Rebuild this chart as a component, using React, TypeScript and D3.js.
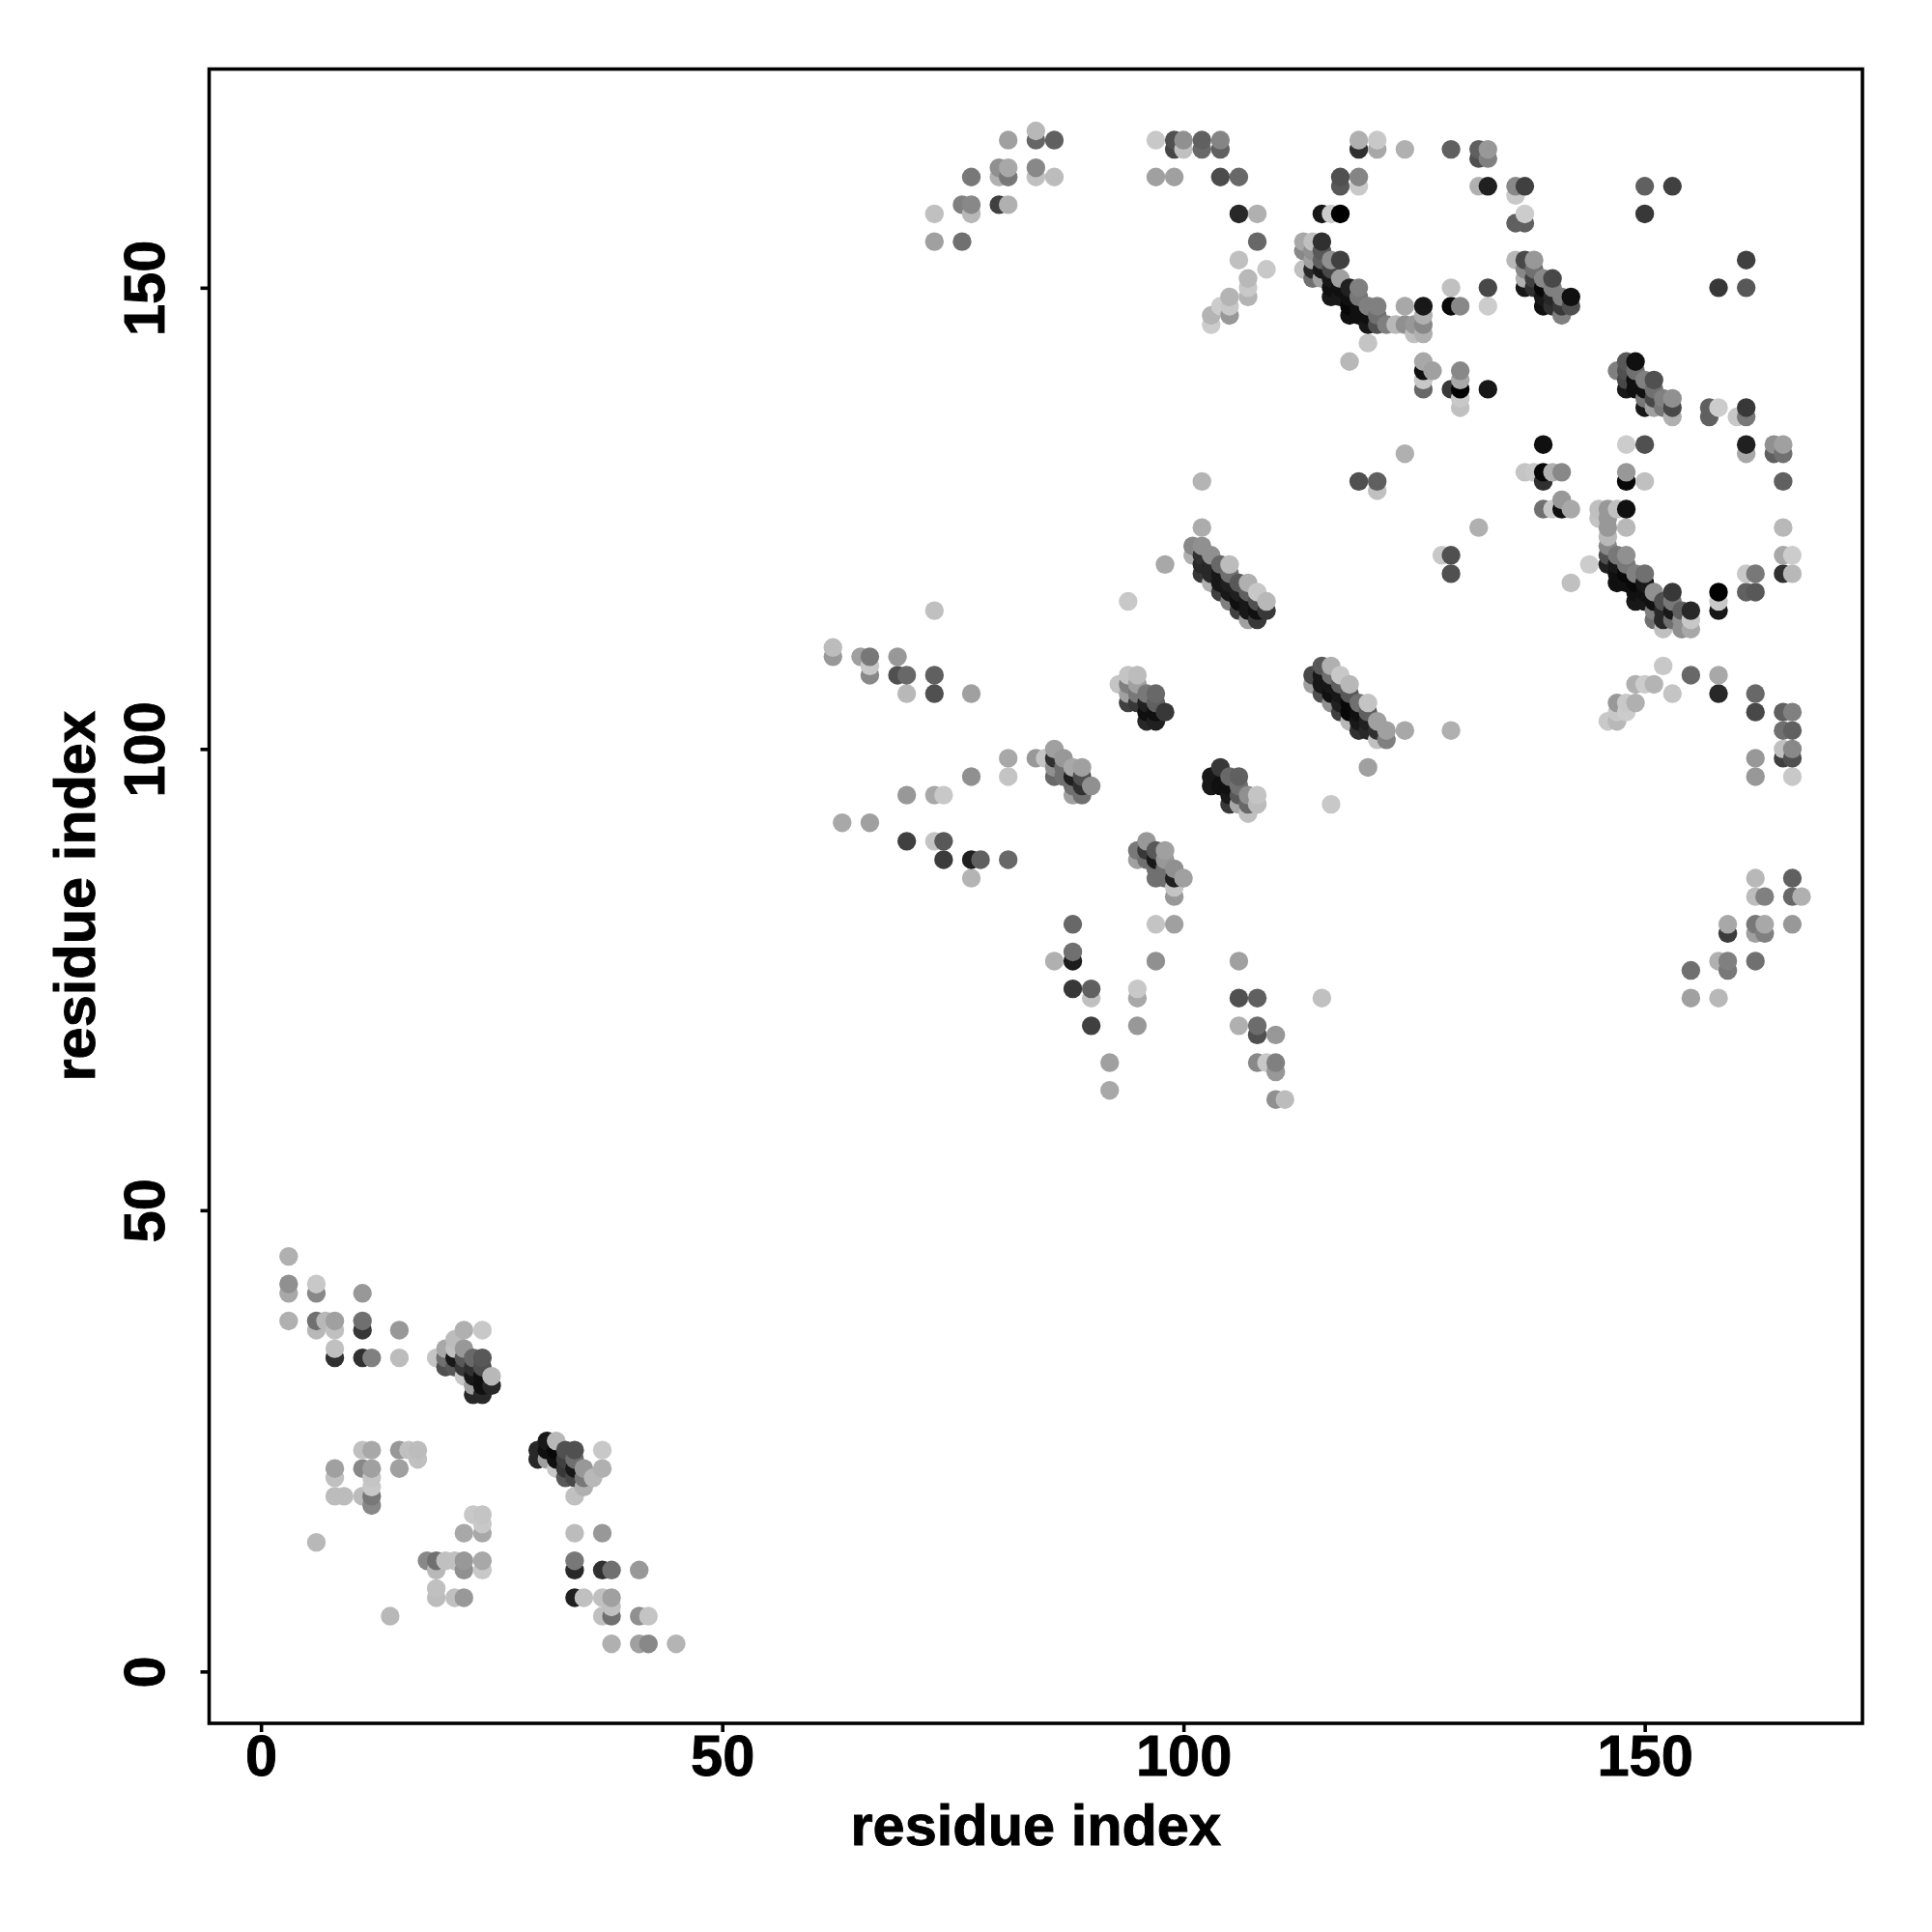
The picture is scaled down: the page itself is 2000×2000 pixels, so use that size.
import React, { useEffect, useRef } from 'react';
import * as d3 from 'd3';

// each contact: [residue i, residue j, grey level]
type Contact = [number, number, number];

const xTicks = [0, 50, 100, 150];
const yTicks = [0, 50, 100, 150];
const xLabel = 'residue index';
const yLabel = 'residue index';

const lowerLeftSparse: Contact[] = [
  [3,45,0xb0],[3,42,0x90],[3,41,0xa8],[6,42,0xc8],[6,41,0x88],[11,41,0x98],[3,38,0xb0],[6,38,0x70],[7,38,0xb8],[8,38,0xa0],
  [6,37,0xb8],[8,37,0xc0],[11,38,0x70],[11,37,0x38],[15,37,0x98],[8,35,0xc0],[8,34,0x30],[11,34,0x30],[12,34,0x80],[15,34,0xbc],
  [11,24,0xc0],[12,24,0xa8],[15,24,0x98],[16,24,0xc0],[17,24,0xbc],[15,22,0xa0],[17,23,0xc0],[8,22,0xa0],[8,21,0xc0],[8,19,0xbc],
  [9,19,0xbc],[11,22,0x88],[12,22,0xa0],[12,21,0xc4],[12,20,0xc8],[11,19,0xbc],[12,19,0x78],[12,18,0x88],[6,14,0xb8],[23,17,0xc8],
  [24,17,0xc4],[24,16,0xc8],[24,15,0xa8],[22,15,0xa8],[18,12,0x88],[19,12,0x70],[19,11,0xb8],[20,12,0xc0],[21,12,0xc0],[22,12,0x98],
  [22,11,0x90],[24,12,0xa8],[24,11,0xc8],[19,9,0xc0],[19,8,0xbc],[21,8,0xc0],[22,8,0x98],[14,6,0xb8],
  [34,15,0xbc],[37,15,0x98],[34,12,0x78],[34,11,0x28],[37,11,0x30],[38,11,0x70],[41,11,0x98],[34,8,0x20],[35,8,0xc0],[37,8,0xc0],
  [38,8,0xa0],[38,7,0xc0],[37,6,0xc0],[38,6,0x70],[41,6,0x90],[42,6,0xc4],[38,3,0xb0],[41,3,0xa0],[42,3,0x88],[45,3,0xb4],
];

const helixA: Contact[] = [
  [19,34,0xc4],[20,35,0xa8],[21,36,0xbc],[22,37,0xb0],[24,37,0xc8],[20,34,0x70],[20,33,0x50],[21,35,0xc0],[22,35,0x98],[21,34,0x18],
  [21,33,0x58],[23,34,0x68],[24,34,0x58],[22,34,0x58],[22,33,0x38],[23,33,0x30],[24,33,0x50],[25,32,0xb8],[22,32,0xc8],[23,32,0x18],
  [24,32,0x10],[23,31,0xa0],[24,31,0x10],[25,31,0x28],[23,30,0x28],[24,30,0x28],
];

const helixB: Contact[] = [
  [30,24,0x28],[30,23,0x28],[31,25,0x18],[32,25,0xb8],[31,24,0x10],[31,23,0xa0],[32,24,0x08],[32,23,0x10],[33,24,0x50],[34,24,0x50],
  [33,23,0x40],[34,23,0x70],[32,22,0xc8],[33,22,0x38],[34,22,0x18],[33,21,0x58],[34,21,0x48],[35,22,0x98],[35,20,0xb0],[34,19,0xc0],
  [35,21,0x78],[36,21,0xb8],[37,24,0xc8],[37,22,0xb0],
];

const topSparse: Contact[] = [
  [81,166,0xa0],[84,167,0xb8],[84,166,0x66],[86,166,0x60],[97,166,0xc8],[99,166,0x50],[99,165,0x45],[100,166,0x90],[100,165,0xc0],
  [102,166,0x60],[102,165,0x68],[104,166,0x85],[104,165,0x60],[80,163,0x90],[81,163,0xa8],[84,163,0x88],[77,162,0x78],[80,162,0xb0],
  [81,162,0x78],[84,162,0xc0],[86,162,0xbc],[97,162,0xa0],[99,162,0xa0],[104,162,0x4c],[106,162,0x68],[76,159,0x80],[77,159,0x88],
  [80,159,0x40],[81,159,0xb0],[73,158,0xc0],[77,158,0xb8],[106,158,0x28],[108,158,0xb0],[73,155,0xa0],[76,155,0x70],[108,155,0x68],
  [106,153,0xc0],[109,152,0xc8],[107,151,0xb8],[107,150,0xc8],[107,149,0xb4],[105,149,0xb4],[105,148,0xc8],[105,147,0x98],[104,148,0xcc],
  [103,147,0xb4],[103,146,0xcc],[102,129,0xb4],[102,124,0xac],[98,120,0xa8],[94,116,0xc8],[73,115,0xc0],
  [119,166,0xb0],[119,165,0x30],[121,166,0xc8],[121,165,0xa8],[124,165,0xb0],[129,165,0x60],[132,165,0x60],[132,164,0x50],[133,165,0x98],
  [133,164,0x80],[117,162,0x50],[117,161,0x58],[119,162,0x85],[119,161,0xc8],[132,161,0xb0],[133,161,0x20],[136,161,0x88],[136,160,0xc8],
  [137,161,0x40],[150,161,0x60],[153,161,0x40],[150,158,0x38],[115,158,0x18],[116,158,0xcc],[117,158,0x00],[137,158,0xcc],[136,157,0x60],
  [137,157,0x60],[161,153,0x40],[158,150,0x38],[161,150,0x58],[129,150,0xc0],[133,150,0x48],[133,148,0xcc],[129,148,0x08],[130,148,0x88],
  [120,144,0xc4],[118,142,0xb8],[126,142,0xa8],[127,141,0xa0],[126,141,0x10],[126,140,0xc8],[126,139,0x68],[130,141,0x88],[130,140,0xa8],
  [130,139,0x00],[129,139,0x38],[130,138,0xc8],[130,137,0xc0],[133,139,0x18],
];

const rightSparse: Contact[] = [
  [157,137,0x60],[157,136,0x60],[158,137,0xcc],[160,136,0xc8],[161,137,0x38],[161,136,0x78],[139,133,0x10],[148,133,0xcc],[150,133,0x50],
  [161,133,0x20],[161,132,0xa8],[164,133,0x90],[164,132,0x60],[165,133,0xa0],[165,132,0x70],[124,132,0xb0],[137,130,0xc4],[138,130,0xc8],
  [139,130,0x08],[139,129,0x30],[140,130,0xb0],[141,130,0x88],[148,130,0x98],[148,129,0x08],[150,129,0xc0],[165,129,0x60],[119,129,0x50],
  [121,129,0x60],[121,128,0xc0],[141,127,0x98],[139,126,0x70],[140,126,0xc8],[141,126,0x10],[142,126,0xa8],[132,124,0xb0],[165,124,0xb8],
  [128,121,0xc8],[129,121,0x50],[129,119,0x50],[165,121,0xa8],[166,121,0xcc],[165,119,0x30],[166,119,0xb8],[144,120,0xcc],[142,118,0xc0],
  [161,119,0xc8],[162,119,0x78],[161,117,0x60],[162,117,0x58],[158,117,0x00],[158,116,0xc8],[158,115,0x18],
  [152,109,0xc8],[155,108,0x68],[158,108,0xa8],[158,106,0x28],[153,106,0xc4],[162,106,0x68],[162,104,0x48],[165,104,0x60],[166,104,0x80],
  [165,102,0x70],[166,102,0x60],[165,100,0xc0],[166,100,0x88],[162,99,0x98],[165,99,0x40],[166,99,0x50],[162,97,0x98],[166,97,0xc8],
  [149,107,0xb0],[150,107,0xcc],[151,107,0xb4],[147,105,0x98],[148,105,0xc8],[149,105,0xb0],[147,104,0xc8],[148,104,0xcc],[146,103,0xc8],
  [147,103,0xb8],[124,102,0xa8],[129,102,0xb0],[120,98,0xa0],[116,94,0xc8],
  [162,86,0xb8],[166,86,0x60],[162,84,0xbc],[163,84,0x80],[166,84,0x68],[167,84,0xb0],[159,81,0xa8],[159,80,0x3c],[162,81,0x78],[163,81,0xa8],
  [162,80,0xa0],[163,80,0x80],[166,81,0x98],[158,77,0xb0],[159,77,0x80],[159,76,0x78],[162,77,0x70],[155,76,0x70],[155,73,0xa0],[158,73,0xb8],
];

const middleSparse: Contact[] = [
  [62,111,0xbc],[62,110,0x98],[65,110,0xa0],[66,110,0x78],[66,109,0xc8],[66,108,0x88],[69,110,0x98],[69,108,0x50],[70,108,0x68],[73,108,0x60],
  [70,106,0xb8],[73,106,0x50],[77,106,0xa0],[81,99,0xa8],[81,97,0xc4],[77,97,0x90],[70,95,0x98],[73,95,0xa8],[74,95,0xc8],[63,92,0xa8],
  [66,92,0xa0],[70,90,0x40],[73,90,0xc4],[74,90,0x58],[74,88,0x3c],[77,88,0x20],[78,88,0x60],[81,88,0x68],[77,86,0xb4],
  [88,81,0x68],[97,81,0xc4],[99,81,0xa0],[88,78,0x70],[88,77,0x1c],[86,77,0xb0],[97,77,0x90],[106,77,0xa0],[88,74,0x38],[90,74,0x60],
  [90,73,0xc0],[95,74,0xc8],[95,73,0xa8],[106,73,0x50],[108,73,0x60],[115,73,0xc0],[90,70,0x40],[95,70,0x98],[106,70,0xb0],[108,70,0x6c],
  [108,69,0x50],[110,69,0x98],[92,66,0xa0],[92,63,0xa8],[108,66,0x88],[109,66,0xc8],[110,66,0x80],[110,65,0x98],[110,62,0x90],[111,62,0xbc],
];

const helixC: Contact[] = [
  [93,107,0xc4],[94,108,0xc4],[95,108,0xbc],[94,107,0x80],[95,107,0xa0],[94,106,0xa0],[94,105,0x40],[96,106,0x78],[97,106,0x68],[95,106,0x78],
  [95,105,0x38],[96,105,0x20],[97,105,0x60],[96,104,0x10],[97,104,0x10],[98,104,0x38],[96,103,0x28],[97,103,0x20],
];

const helixD: Contact[] = [
  [84,99,0x98],[85,99,0xc4],[86,100,0xa0],[86,99,0x30],[87,99,0x98],[86,98,0x90],[86,97,0x68],[87,98,0x70],[87,97,0x70],[88,98,0xa8],
  [89,98,0xa0],[88,97,0x20],[89,97,0x50],[88,96,0x70],[89,96,0x30],[90,96,0x90],[88,95,0xa0],[89,95,0x70],
];

const helixE: Contact[] = [
  [95,89,0x78],[96,90,0x98],[96,89,0x38],[97,89,0x58],[98,89,0xa0],[95,88,0xa0],[96,88,0x70],[97,88,0x18],[98,88,0x98],[97,87,0x70],
  [98,87,0x70],[97,86,0x70],[98,86,0x70],[99,87,0x90],[99,86,0x20],[100,86,0xa0],[99,85,0xc4],[99,84,0x98],
];

const helixF: Contact[] = [
  [103,97,0x18],[104,98,0x38],[105,97,0x68],[106,97,0x60],[103,96,0x18],[104,96,0x10],[105,96,0x10],[106,96,0x70],[105,95,0x18],[106,95,0x58],
  [107,95,0x90],[108,95,0xc4],[105,94,0x38],[106,94,0xa8],[107,94,0x68],[108,94,0xbc],[107,93,0xc0],
];

const helixG: Contact[] = [
  [101,122,0x88],[102,122,0x90],[101,121,0xb0],[102,121,0x30],[103,121,0x90],[104,120,0x68],[105,120,0xbc],[102,120,0x28],[102,119,0x38],
  [103,120,0x28],[103,119,0x28],[104,119,0x18],[105,119,0x70],[103,118,0xb0],[104,118,0x18],[105,118,0x20],[106,118,0x58],[107,118,0xb0],
  [104,117,0x40],[105,117,0x18],[106,117,0x20],[107,117,0x60],[108,117,0xc8],[105,116,0x80],[106,116,0x10],[107,116,0x18],[108,116,0x50],
  [109,116,0xb8],[106,115,0x40],[107,115,0x18],[108,115,0x10],[109,115,0x38],[107,114,0xa0],[108,114,0x38],
];

const helixH: Contact[] = [
  [115,109,0x58],[116,109,0xb0],[114,108,0x48],[115,108,0x18],[116,108,0x70],[117,108,0xc8],[114,107,0xa0],[115,107,0x18],[116,107,0x18],
  [117,107,0x60],[118,107,0xb8],[115,106,0x50],[116,106,0x10],[117,106,0x18],[118,106,0x58],[116,105,0x90],[117,105,0x20],[118,105,0x08],
  [119,105,0x70],[120,105,0xc4],[117,104,0x40],[118,104,0x08],[119,104,0x10],[120,104,0x60],[118,103,0xb8],[119,103,0x18],[120,103,0x20],
  [121,103,0xa0],[119,102,0x30],[120,102,0x28],[121,102,0x30],[122,102,0xa0],[121,101,0xc0],[122,101,0x80],
];

const arcTop: Contact[] = [
  [113,155,0xa8],[114,155,0xc0],[115,155,0x30],[113,154,0x88],[114,154,0x90],[115,154,0x58],[113,152,0xc0],[114,153,0xa0],[115,153,0x60],
  [114,152,0x28],[114,151,0x70],[115,152,0x18],[115,151,0xa0],[116,153,0x90],[117,153,0x40],[116,152,0x48],[116,151,0x18],[117,151,0xa0],
  [116,150,0x10],[116,149,0x18],[117,149,0x18],[117,150,0x10],[118,150,0x20],[119,150,0x80],[118,149,0x10],[119,149,0x78],[118,148,0x08],
  [119,148,0x10],[120,148,0x80],[121,148,0x80],[118,147,0x10],[119,147,0x10],[120,147,0x10],[121,147,0x70],[120,146,0x18],[121,146,0x50],
  [122,146,0x80],[123,146,0xb8],[124,146,0x90],[125,146,0x98],[126,146,0x88],[124,148,0xa8],[126,148,0x18],[126,147,0xb0],[125,145,0xc0],
  [126,145,0xb0],
];

const arcMiddle: Contact[] = [
  [136,153,0xb8],[137,153,0x48],[138,153,0x98],[137,152,0x88],[137,151,0xb0],[137,150,0x18],[138,152,0x70],[138,151,0x40],[138,150,0x30],
  [139,151,0x88],[140,151,0x48],[139,150,0x08],[139,149,0x18],[140,150,0x80],[140,149,0x28],[139,148,0x10],[140,148,0x30],[141,149,0x80],
  [141,148,0x38],[142,149,0x10],[142,148,0x50],[141,147,0x80],
];

const arcRightUpper: Contact[] = [
  [147,141,0x80],[148,142,0x58],[149,142,0x10],[148,141,0x50],[149,141,0x70],[148,140,0x48],[149,140,0x10],[150,140,0x80],[151,140,0x50],
  [148,139,0x18],[149,139,0x10],[150,139,0x10],[151,139,0x70],[150,138,0x78],[151,138,0x48],[152,138,0x80],[153,138,0x90],[150,137,0x18],
  [151,137,0xa0],[152,137,0x78],[153,137,0x48],[153,136,0xb0],
];

const arcRightLower: Contact[] = [
  [145,126,0xc0],[145,125,0xc4],[146,126,0x98],[147,126,0xc0],[148,126,0x10],[146,125,0x98],[146,124,0x98],[148,124,0xb8],[146,123,0xb8],
  [146,122,0x88],[146,121,0x50],[146,120,0x20],[147,121,0x78],[148,121,0x90],[147,120,0x18],[148,120,0x78],[149,119,0x80],[150,119,0x70],
  [147,119,0x10],[148,119,0x08],[147,118,0x10],[148,118,0x10],[149,118,0x08],[150,118,0x18],[149,117,0x10],[150,117,0x10],[151,117,0x90],
  [153,117,0x38],[149,116,0x18],[150,116,0x18],[151,116,0x10],[152,116,0x50],[153,116,0x78],[151,115,0x80],[152,115,0x28],[153,115,0x18],
  [154,115,0x60],[155,115,0x28],[151,114,0x70],[152,114,0x28],[153,114,0x70],[154,114,0x90],[155,114,0xc8],[152,113,0xc0],[154,113,0x90],
  [155,113,0xa8],
];

const contacts: Contact[] = [
  ...lowerLeftSparse, ...helixA, ...helixB, ...topSparse, ...rightSparse, ...middleSparse, ...helixC, ...helixD,
  ...helixE, ...helixF, ...helixG, ...helixH, ...arcTop, ...arcMiddle, ...arcRightUpper, ...arcRightLower,
];

const App: React.FC = () => {
  const svgRef = useRef<SVGSVGElement>(null);

  useEffect(() => {
    if (!svgRef.current) return;
    const svg = d3.select(svgRef.current);
    svg.selectAll('*').remove();

    const left = 216.5, right = 1928, top = 71.5, bottom = 1784;
    const font = '"Liberation Sans", Arial, sans-serif';
    const fontSize = 59.5;
    const lineWidth = 3.6;

    const x = d3.scaleLinear().domain([-5.62, 173.6]).range([left, right]);
    const y = d3.scaleLinear().domain([-5.62, 173.7]).range([bottom, top]);

    // R plots column by column, upwards in each
    const ordered = [...contacts].sort((a, b) => a[0] - b[0] || a[1] - b[1]);

    svg.append('g')
      .selectAll('circle')
      .data(ordered)
      .enter().append('circle')
      .attr('cx', d => x(d[0]))
      .attr('cy', d => y(d[1]))
      .attr('r', 9.7)
      .attr('fill', d => d3.rgb(d[2], d[2], d[2]).formatRgb());

    const boldText = (sel: any) => sel
      .attr('fill', '#000')
      .attr('stroke', '#000')
      .attr('stroke-width', 0.9)
      .style('font-family', font)
      .style('font-size', `${fontSize}px`)
      .style('font-weight', 'bold');

    const xAxis = svg.append('g')
      .attr('transform', `translate(0,${bottom})`)
      .call(d3.axisBottom(x).tickValues(xTicks).tickFormat(d3.format('d')).tickSize(9).tickPadding(3));
    xAxis.select('.domain').remove();
    xAxis.selectAll('.tick line').attr('stroke', '#000').attr('stroke-width', lineWidth);
    xAxis.selectAll('.tick text').call(boldText);

    const yAxis = svg.append('g')
      .attr('transform', `translate(${left},0)`)
      .call(d3.axisLeft(y).tickValues(yTicks).tickFormat(d3.format('d')).tickSize(9));
    yAxis.select('.domain').remove();
    yAxis.selectAll('.tick line').attr('stroke', '#000').attr('stroke-width', lineWidth);
    yAxis.selectAll('.tick text')
      .call(boldText)
      .attr('x', null).attr('y', null).attr('dy', null)
      .attr('text-anchor', 'middle')
      .attr('transform', `translate(${170 - left},0) rotate(-90)`);

    svg.append('rect')
      .attr('x', left).attr('y', top)
      .attr('width', right - left).attr('height', bottom - top)
      .attr('fill', 'none').attr('stroke', '#000').attr('stroke-width', lineWidth);

    svg.append('text')
      .attr('x', (left + right) / 2).attr('y', 1910)
      .attr('text-anchor', 'middle')
      .call(boldText)
      .text(xLabel);

    svg.append('text')
      .attr('transform', `translate(98,${(top + bottom) / 2}) rotate(-90)`)
      .attr('text-anchor', 'middle')
      .call(boldText)
      .text(yLabel);
  }, []);

  return (
    <svg ref={svgRef} width={2000} height={2000} style={{ position: 'absolute', left: 0, top: 0, background: '#fff' }} />
  );
};

export default App;
